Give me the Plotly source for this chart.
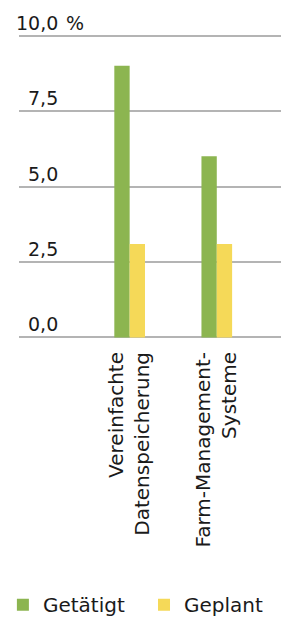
import plotly.graph_objects as go

categories = ["Vereinfachte<br>Datenspeicherung", "Farm-Management-<br>Systeme"]
getaetigt = [9.0, 6.0]
geplant = [3.1, 3.1]
tick_vals = [0, 2.5, 5, 7.5, 10]
tick_text = ["0,0", "2,5", "5,0", "7,5", "10,0"]
unit_label = "%"

FONT = "DejaVu Sans, Verdana, sans-serif"
TXT = "#1a1a1a"
FS = 20

fig = go.Figure()
fig.add_trace(go.Bar(x=categories, y=getaetigt, name="Getätigt", marker_color="#8CB550",
                     marker_line_width=0, legend="legend"))
fig.add_trace(go.Bar(x=categories, y=geplant, name="Geplant", marker_color="#F5D958",
                     marker_line_width=0, legend="legend2"))

legend_common = dict(orientation="h", xanchor="left", y=-0.871, yanchor="middle",
                     font=dict(family=FONT, size=FS, color=TXT), bgcolor="rgba(0,0,0,0)")

fig.update_layout(
    template="none",
    width=289, height=618,
    margin=dict(l=11, r=14, t=26, b=287, pad=0, autoexpand=False),
    paper_bgcolor="white", plot_bgcolor="white",
    barmode="group", bargap=0.648, bargroupgap=0,
    font=dict(family=FONT, size=FS, color=TXT),
    showlegend=True,
    legend=dict(x=-0.061, **legend_common),
    legend2=dict(x=0.4735, **legend_common),
)
fig.update_xaxes(range=[-1.27, 1.76], tickangle=-90, showgrid=False, showline=False,
                 automargin=False, ticks="", zeroline=False, ticklabelstandoff=8,
                 tickfont=dict(family=FONT, size=FS, color=TXT))
fig.update_yaxes(range=[-0.05, 10.05], tickvals=tick_vals, showticklabels=False,
                 automargin=False,
                 showgrid=True, gridcolor="#b4b4b4", gridwidth=1.5,
                 zeroline=False, showline=False, ticks="")
for v, t in zip(tick_vals, tick_text):
    fig.add_annotation(x=0.1553, xref="paper", xanchor="right", y=v, yref="y",
                       yshift=13, yanchor="middle", text=t, showarrow=False,
                       font=dict(family=FONT, size=19, color=TXT))
fig.add_annotation(x=0.1705, xref="paper", xanchor="left", y=tick_vals[-1], yref="y",
                   yshift=13, yanchor="middle", text=unit_label, showarrow=False,
                   font=dict(family=FONT, size=19, color=TXT))
fig.write_html("out.html")
